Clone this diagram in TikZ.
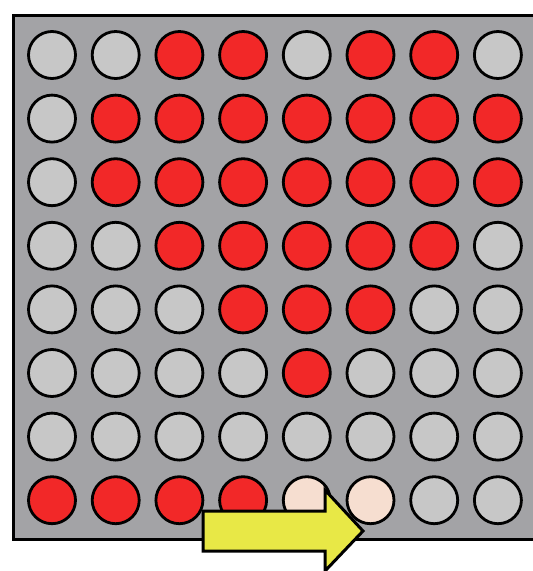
\documentclass[tikz,border=0pt]{standalone}
\usetikzlibrary{positioning,calc}
\definecolor{boardgray}{RGB}{163,163,166}
\definecolor{ledgray}{RGB}{199,199,199}
\definecolor{ledred}{RGB}{242,40,40}
\definecolor{ledpale}{RGB}{246,222,208}
\definecolor{arrowyellow}{RGB}{232,232,70}
\tikzset{
  board/.style={fill=boardgray, draw=black, line width=3pt},
  led/.style={circle, draw=black, line width=2.8pt, minimum size=47pt, inner sep=0pt},
  ledg/.style={led, fill=ledgray},
  ledr/.style={led, fill=ledred},
  ledp/.style={led, fill=ledpale},
  shiftarrow/.style={fill=arrowyellow, draw=black, line width=3pt, line join=miter}
}
\begin{document}
\begin{tikzpicture}[x=1pt,y=-1pt]
    \useasboundingbox (0,0) rectangle (533,571);
    \clip (0,0) rectangle (533,571);
    \draw[board] (13,15) rectangle (545,539);

    % led matrix, row by row
    \foreach \row [count=\r] in {{g,g,r,r,g,r,r,g},{g,r,r,r,r,r,r,r},
      {g,r,r,r,r,r,r,r},{g,g,r,r,r,r,r,g},{g,g,g,r,r,r,g,g},
      {g,g,g,g,r,g,g,g},{g,g,g,g,g,g,g,g},{r,r,r,r,p,p,g,g}}
      \foreach \v [count=\c] in \row
        \node[led\v] (led-\r-\c) at ({52+63.7*(\c-1)},{55+63.6*(\r-1)}) {};

    % shift arrow
    \coordinate (tail) at (203,531);
    \coordinate (tip) at (363,531);
    \draw[shiftarrow] ($(tail)+(0,-20)$) -- (325,511) -- (325,490) -- (tip)
      -- (325,571) -- (325,551) -- ($(tail)+(0,20)$) -- cycle;
\end{tikzpicture}
\end{document}
